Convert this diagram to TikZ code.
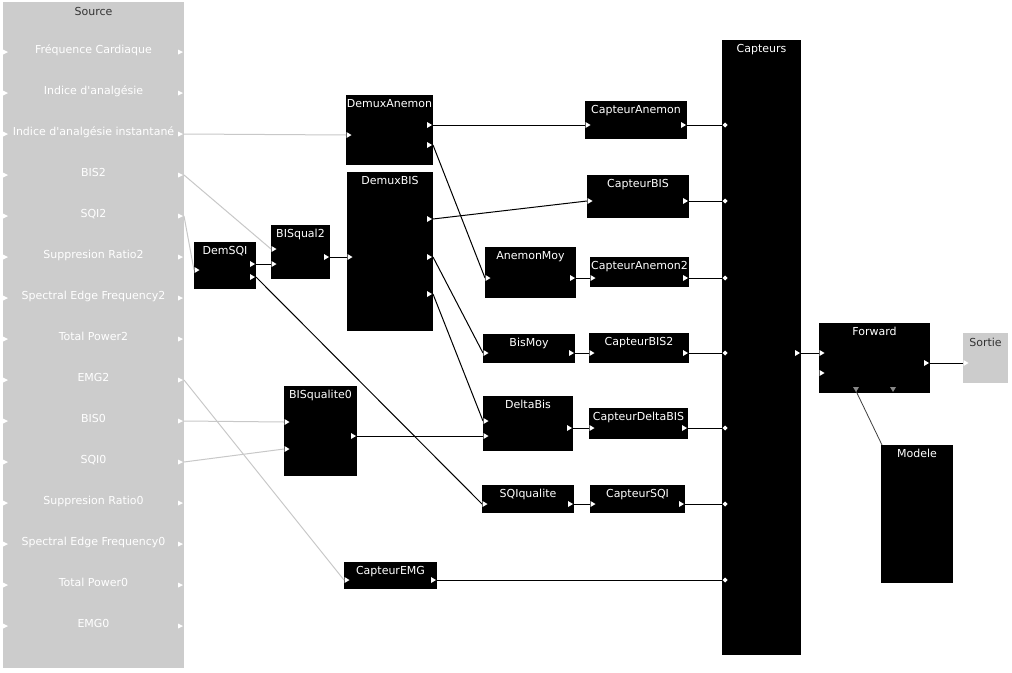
\documentclass[tikz,border=0pt]{standalone}
\usepackage{fontspec}
\setmainfont{DejaVu Sans}[Ligatures=TeXOff]
\definecolor{srcgray}{HTML}{CCCCCC}
\definecolor{wiregray}{HTML}{C8C8C8}
\definecolor{ttldark}{HTML}{333333}
\definecolor{portgray}{HTML}{888888}
\tikzset{
  blk/.style={fill=black,draw=none,inner sep=0pt,outer sep=0pt},
  grayblk/.style={fill=srcgray,draw=none,inner sep=0pt,outer sep=0pt},
  ttl/.style={text=white,inner sep=0pt,font=\fontsize{11}{13}\selectfont},
  dttl/.style={text=ttldark,inner sep=0pt,font=\fontsize{11}{13}\selectfont},
  wire/.style={draw=black,line width=1pt},
  gwire/.style={draw=wiregray,line width=1pt},
  porttri/.style={fill=white,draw=none},
}
\newcommand\blk[7][blk]{%
  \node[#1,minimum width={#5-#3},minimum height={#6-#4},anchor=north west] (#2) at (#3,#4) {};
  \node[ttl,anchor=base] (#2-t) at ({(#3+#5)/2},{#4+12.8}) {#7};}
\newcommand\pin[3]{% name x y : input triangle inside left edge
  \coordinate (#1) at (#2,#3);
  \fill[porttri] (#2+0.5,#3-3) -- (#2+5.5,#3) -- (#2+0.5,#3+3) -- cycle;}
\newcommand\pout[3]{% name x y : output triangle inside right edge
  \coordinate (#1) at (#2,#3);
  \fill[porttri] (#2-6,#3-3) -- (#2-1,#3) -- (#2-6,#3+3) -- cycle;}
\newcommand\pdot[3]{%
  \coordinate (#1) at (#2,#3);
  \fill[white] (#2+3,#3-2.5) -- (#2+5.5,#3) -- (#2+3,#3+2.5) -- (#2+0.5,#3) -- cycle;}
\begin{document}
\begin{tikzpicture}[x=1pt,y=-1pt]
\useasboundingbox (0,0) rectangle (1012,672);
\fill[white] (0,0) rectangle (1012,672);
% Source
\node[grayblk,minimum width=181,minimum height=666,anchor=north west] (src) at (3,2) {};
\node[dttl,anchor=base] (src-t) at (93.5,15) {Source};
\foreach \lab [count=\k from 0] in {Fréquence Cardiaque,Indice d'analgésie,Indice d'analgésie instantané,BIS2,SQI2,Suppresion Ratio2,Spectral Edge Frequency2,Total Power2,EMG2,BIS0,SQI0,Suppresion Ratio0,Spectral Edge Frequency0,Total Power0,EMG0}{
  \node[ttl,anchor=base] (src-l\k) at (93.5,{53+41*\k}) {\lab};
}
% Blocks
\blk{demuxA}{346}{95}{433}{165}{DemuxAnemon}
\blk{demuxB}{347}{172}{433}{331}{DemuxBIS}
\blk{captA}{585}{101}{687}{139}{CapteurAnemon}
\blk{captB}{587}{175}{689}{218}{CapteurBIS}
\blk{anMoy}{485}{247}{576}{298}{AnemonMoy}
\blk{captAA}{590}{257}{689}{287}{CapteurAnemon2}
\blk{bisMoy}{483}{334}{575}{363}{BisMoy}
\blk{captBB}{589}{333}{689}{363}{CapteurBIS2}
\blk{deltaB}{483}{396}{573}{451}{DeltaBis}
\blk{captD}{589}{408}{688}{439}{CapteurDeltaBIS}
\blk{sqiQ}{482}{485}{574}{513}{SQIqualite}
\blk{captS}{590}{485}{685}{513}{CapteurSQI}
\blk{captE}{344}{562}{437}{589}{CapteurEMG}
\blk{bisqz}{284}{386}{357}{476}{BISqualite0}
\blk{demSQI}{194}{242}{256}{289}{DemSQI}
\blk{bisqd}{271}{225}{330}{279}{BISqual2}
\blk{capteurs}{722}{40}{801}{655}{Capteurs}
\blk{forward}{819}{323}{930}{393}{Forward}
\blk{modele}{881}{445}{953}{583}{Modele}
\node[grayblk,minimum width=45,minimum height=50,anchor=north west] (sortie) at (963,333) {};
\node[dttl,anchor=base] (sortie-t) at (985.5,346) {Sortie};
% Wires (drawn before port marks)
\coordinate (src-o2) at (184,134);
\coordinate (src-o3) at (184,175);
\coordinate (src-o4) at (184,216);
\coordinate (src-o8) at (184,380);
\coordinate (src-o9) at (184,421);
\coordinate (src-o10) at (184,462);
\coordinate (demuxA-in) at (346,135);
\coordinate (bisqd-i1) at (271,249);
\coordinate (demSQI-in) at (194,270);
\coordinate (captE-in) at (344,580);
\coordinate (bisqz-i1) at (284,422);
\coordinate (bisqz-i2) at (284,449);
\draw[gwire] (src-o2) -- (demuxA-in);
\draw[gwire] (src-o3) -- (bisqd-i1);
\draw[gwire] (src-o4) -- (demSQI-in);
\draw[gwire] (src-o8) -- (captE-in);
\draw[gwire] (src-o9) -- (bisqz-i1);
\draw[gwire] (src-o10) -- (bisqz-i2);
% port coordinates
\coordinate (demuxA-o1) at (433,125);
\coordinate (demuxA-o2) at (433,145);
\coordinate (demuxB-in) at (347,257);
\coordinate (demuxB-o1) at (433,219);
\coordinate (demuxB-o2) at (433,257);
\coordinate (demuxB-o3) at (433,294);
\coordinate (captA-in) at (585,125);
\coordinate (captA-out) at (687,125);
\coordinate (captB-in) at (587,201);
\coordinate (captB-out) at (689,201);
\coordinate (anMoy-in) at (485,278);
\coordinate (anMoy-out) at (576,278);
\coordinate (captAA-in) at (590,278);
\coordinate (captAA-out) at (689,278);
\coordinate (bisMoy-in) at (483,353);
\coordinate (bisMoy-out) at (575,353);
\coordinate (captBB-in) at (589,353);
\coordinate (captBB-out) at (689,353);
\coordinate (deltaB-i1) at (483,421);
\coordinate (deltaB-i2) at (483,436);
\coordinate (deltaB-out) at (573,428);
\coordinate (captD-in) at (589,428);
\coordinate (captD-out) at (688,428);
\coordinate (sqiQ-in) at (482,504);
\coordinate (sqiQ-out) at (574,504);
\coordinate (captS-in) at (590,504);
\coordinate (captS-out) at (685,504);
\coordinate (captE-out) at (437,580);
\coordinate (bisqz-out) at (357,436);
\coordinate (demSQI-o1) at (256,264);
\coordinate (demSQI-o2) at (256,277);
\coordinate (bisqd-i2) at (271,264);
\coordinate (bisqd-out) at (330,257);
\coordinate (cap-i1) at (722,125);
\coordinate (cap-i2) at (722,201);
\coordinate (cap-i3) at (722,278);
\coordinate (cap-i4) at (722,353);
\coordinate (cap-i5) at (722,428);
\coordinate (cap-i6) at (722,504);
\coordinate (cap-i7) at (722,580);
\coordinate (cap-out) at (801,353);
\coordinate (fwd-i1) at (819,353);
\coordinate (fwd-i2) at (819,373);
\coordinate (fwd-out) at (930,363);
\coordinate (fwd-b1) at (856,391);
\coordinate (fwd-b2) at (893,391);
\coordinate (sortie-in) at (963,363);
\coordinate (modele-c) at (882,445);
\draw[wire] (demuxA-o1) -- (captA-in);
\draw[wire] (demuxA-o2) -- (anMoy-in);
\draw[wire] (demuxB-o1) -- (captB-in);
\draw[wire] (demuxB-o2) -- (bisMoy-in);
\draw[wire] (demuxB-o3) -- (deltaB-i1);
\draw[wire] (bisqz-out) -- (deltaB-i2);
\draw[wire] (demSQI-o1) -- (bisqd-i2);
\draw[wire] (demSQI-o2) -- (sqiQ-in);
\draw[wire] (bisqd-out) -- (demuxB-in);
\draw[wire] (anMoy-out) -- (captAA-in);
\draw[wire] (bisMoy-out) -- (captBB-in);
\draw[wire] (deltaB-out) -- (captD-in);
\draw[wire] (sqiQ-out) -- (captS-in);
\draw[wire] (captA-out) -- (cap-i1);
\draw[wire] (captB-out) -- (cap-i2);
\draw[wire] (captAA-out) -- (cap-i3);
\draw[wire] (captBB-out) -- (cap-i4);
\draw[wire] (captD-out) -- (cap-i5);
\draw[wire] (captS-out) -- (cap-i6);
\draw[wire] (captE-out) -- (cap-i7);
\draw[wire] (cap-out) -- (fwd-i1);
\draw[wire] (fwd-out) -- (sortie-in);
\draw[draw=black!75,line width=0.8pt] (fwd-b1) -- (modele-c);
% Port marks
\foreach \k in {0,...,14}{
  \fill[porttri] (3,{52+41*\k-2.5}) -- (8,{52+41*\k}) -- (3,{52+41*\k+2.5}) -- cycle;
  \fill[porttri] (178,{52+41*\k-2.5}) -- (183,{52+41*\k}) -- (178,{52+41*\k+2.5}) -- cycle;
}
\pin{p1}{346}{135}
\pout{p2}{433}{125}\pout{p3}{433}{145}
\pin{p4}{347}{257}
\pout{p5}{433}{219}\pout{p6}{433}{257}\pout{p7}{433}{294}
\pin{p8}{585}{125}\pout{p9}{687}{125}
\pin{p10}{587}{201}\pout{p11}{689}{201}
\pin{p12}{485}{278}\pout{p13}{576}{278}
\pin{p14}{590}{278}\pout{p15}{689}{278}
\pin{p16}{483}{353}\pout{p17}{575}{353}
\pin{p18}{589}{353}\pout{p19}{689}{353}
\pin{p20}{483}{421}\pin{p21}{483}{436}\pout{p22}{573}{428}
\pin{p23}{589}{428}\pout{p24}{688}{428}
\pin{p25}{482}{504}\pout{p26}{574}{504}
\pin{p27}{590}{504}\pout{p28}{685}{504}
\pin{p29}{344}{580}\pout{p30}{437}{580}
\pin{p31}{284}{422}\pin{p32}{284}{449}\pout{p33}{357}{436}
\pin{p34}{194}{270}\pout{p35}{256}{264}\pout{p36}{256}{277}
\pin{p37}{271}{249}\pin{p38}{271}{264}\pout{p39}{330}{257}
\foreach \yy [count=\j] in {125,201,278,353,428,504,580}{
  \pdot{d\j}{722}{\yy}
}
\pout{p40}{801}{353}
\pin{p41}{819}{353}\pin{p42}{819}{373}\pout{p43}{930}{363}
\pin{p44}{963}{363}
\fill[portgray] (853,387) -- (859,387) -- (856,392) -- cycle;
\fill[portgray] (890,387) -- (896,387) -- (893,392) -- cycle;
\end{tikzpicture}
\end{document}
